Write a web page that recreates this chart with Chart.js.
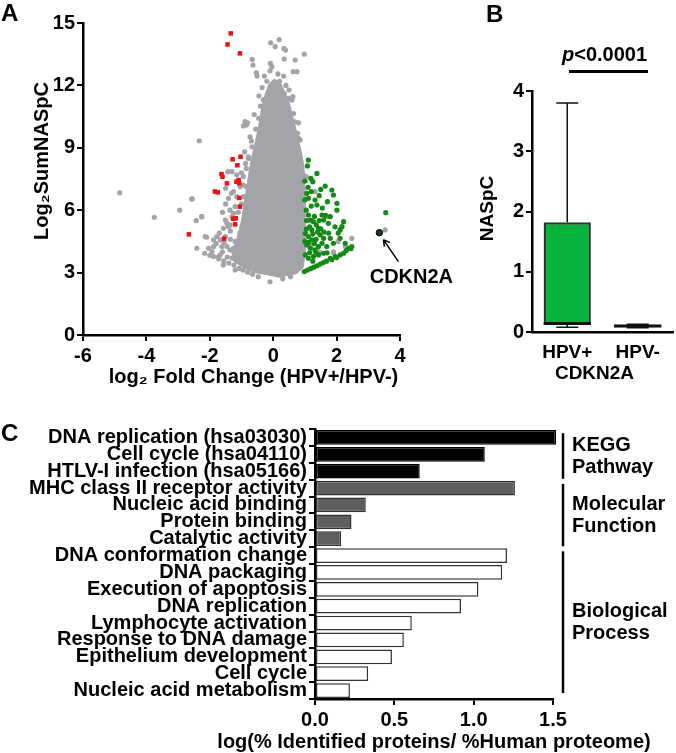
<!DOCTYPE html>
<html>
<head>
<meta charset="utf-8">
<script src="https://cdn.jsdelivr.net/npm/chart.js@4/dist/chart.umd.min.js"></script>
<style>
body { margin: 0; background: #fff; }
#wrap { position: relative; width: 676px; height: 753px; overflow: hidden; font-family: 'Liberation Sans', Arial, sans-serif; font-weight: bold; }
canvas { position: absolute; }
.lbl { position: absolute; font-size: 24px; line-height: 24px; color: #000; }
</style>
</head>
<body>
<div id="wrap">
  <canvas id="volcano" width="470" height="390" style="left:0;top:0"></canvas>
  <canvas id="box" width="276" height="390" style="left:400px;top:0"></canvas>
  <canvas id="go" width="676" height="363" style="left:0;top:390px"></canvas>
  <div class="lbl" style="left:1px;top:1px">A</div>
  <div class="lbl" style="left:486px;top:2px">B</div>
  <div class="lbl" style="left:1px;top:421px">C</div>
  <div style="position:absolute;left:562px;top:44px;font-size:20px;line-height:20px"><i>p</i>&lt;0.0001</div>
  <div style="position:absolute;left:569px;top:70px;width:79px;height:3px;background:#000"></div>
</div>
<script>
// ---- panel A: volcano plot ----
// dense centre of the grey cloud (outline, clockwise from top)
var grayCore = [[0.0,12.3],[0.2,12.2],[0.3,11.9],[0.5,11.2],[0.6,10.6],[0.7,10.0],[0.8,9.35],[0.9,8.7],[0.97,8.1],[1.0,7.1],[1.0,5.7],[1.0,3.9],[0.95,3.25],[0.74,2.95],[0.42,2.85],[0.2,2.78],[-0.2,2.9],[-0.6,3.0],[-0.95,3.25],[-1.25,3.55],[-1.3,3.95],[-1.15,4.6],[-1.0,5.5],[-0.9,6.5],[-0.8,7.45],[-0.72,8.25],[-0.6,9.05],[-0.48,9.85],[-0.38,10.8],[-0.25,11.6],[-0.12,12.1]];
var grayPts = [[-4.84,6.84],[-3.75,5.66],[-2.33,9.34],[-2.95,6.0],[-2.57,6.54],[-2.26,5.69],[-2.43,5.5],[-2.1,4.7],[-2.15,4.73],[-2.41,4.17],[-2.04,4.17],[-1.93,4.01],[-1.88,4.25],[-1.88,4.57],[-1.78,4.73],[-1.67,4.57],[-1.67,3.85],[-1.46,4.25],[-1.36,4.09],[-1.25,4.17],
  [-0.08,14.05],[0.19,14.2],[0.06,13.86],[0.34,13.78],[0.39,13.7],[0.98,13.5],[0.35,13.27],[0.69,13.22],[-0.66,13.25],[-0.64,12.98],[-0.09,13.06],[-0.04,12.9],[-0.53,12.6],[-0.51,12.45],[-0.28,12.45],[0.33,12.45],[0.63,12.66],[0.75,12.66],[-0.1,12.7],[0.15,12.55],
  [-0.89,10.26],[-0.84,10.1],[-0.94,10.05],[-0.81,10.2],[0.8,10.2],[0.77,9.7],[0.71,9.47],[0.85,9.38],[0.59,11.3],[0.62,11.46],[0.5,11.78],[-0.31,11.3],[-0.25,10.82],[-0.46,10.42],[-0.73,9.53],[0.48,11.38],[0.64,10.65],[0.69,10.25],[0.8,9.45],[0.77,9.05],[-0.4,11.0],[0.4,12.0],[-0.2,12.2],[0.2,12.2],
  [-1.43,7.85],[-1.3,7.85],[-0.87,8.25],[-0.78,8.57],[-0.69,9.33],[-0.94,7.21],[-0.84,7.13],[-1.32,6.81],[-1.41,6.57],[-2.56,6.54],[-0.94,6.65],[-0.83,6.49],[-1.36,6.0],[-1.25,5.85],[-2.25,5.69],[-1.51,5.53],[-1.46,5.37],[-1.36,5.29],[-1.57,5.13],[-0.94,5.29],[-0.99,5.13],[-0.67,9.05],[-0.78,8.49],[-0.85,8.01],[-0.94,7.61],[-1.04,7.13],[-1.15,6.65],[-1.2,6.17],[-1.3,5.69],[-1.41,5.21],[-1.51,4.73],[-1.62,4.25],[-1.72,3.77],[-1.1,5.9],[-1.0,6.3],[-1.05,4.9],[-1.2,4.5],[-1.35,4.6],[-1.0,7.8],[-0.9,8.8],
  [-1.8,4.4],[-1.6,4.0],[-1.45,3.75],[-1.3,3.7],[-1.15,3.55],[-1.7,4.9],[-1.55,4.45],[-1.1,3.85],[-1.35,5.0],[-1.6,5.9],[-1.5,6.3],[-1.25,6.9],[-1.15,7.7],[-1.5,7.05],
  [-2.16,3.93],[-2.0,3.83],[-1.88,3.77],[-1.72,3.67],[-1.56,3.57],[-1.4,3.46],[-1.24,3.36],[-1.08,3.2],[-0.95,3.12],[-0.8,3.02],[-0.65,2.92],[-0.47,2.8],[-1.57,3.37],[-1.2,3.13],[-0.1,2.56],[0.3,2.7],[0.55,2.8],
  [0.7,8.9],[0.85,8.3],[0.95,7.7],[0.6,9.9],[0.45,10.9],[0.35,11.6],[-0.35,11.9],[-0.45,11.5],[-0.6,10.6],[-0.55,9.9],
  [1.32,6.89],[1.7,5.7],[2.48,4.65],[1.9,3.95],[2.28,4.25],[1.9,4.0],[3.53,5.05],[1.05,7.6],[1.2,4.3],[1.45,4.0],[2.05,4.5]];
var redPts = [[-1.34,14.5],[-1.44,13.97],[-1.05,13.54],[-1.28,8.45],[-1.03,8.57],[-1.13,8.16],[-1.63,7.74],[-1.6,7.61],[-1.09,7.45],[-1.16,7.37],[-1.07,7.29],[-1.46,7.29],[-1.84,6.9],[-1.75,6.86],[-1.07,6.59],[-1.05,6.17],[-1.26,5.59],[-1.18,5.61],[-1.2,5.32],[-1.55,4.63],[-2.66,4.84]];
var greenPts = [[1.11,8.41],[1.08,8.13],[1.38,7.77],[1.19,7.53],[1.25,7.37],[1.64,7.16],[1.06,6.81],[1.11,6.57],[1.85,6.97],[1.9,6.73],[1.32,6.49],[1.38,6.25],[1.71,6.41],[2.01,6.33],[2.01,6.0],[1.04,6.0],[1.11,5.77],[1.17,5.53],[1.54,5.77],[1.59,5.53],[1.8,5.69],[1.74,5.37],[1.27,5.45],[1.36,5.29],[1.43,5.13],[1.22,5.05],[2.22,5.45],[2.17,5.21],[2.11,5.05],[1.01,4.89],[1.11,4.73],[1.22,4.57],[1.06,4.33],[1.17,4.17],[1.32,4.09],[1.43,4.25],[1.54,4.41],[1.59,4.65],[1.48,4.81],[1.8,4.65],[1.9,4.41],[1.69,4.25],[2.11,4.65],[2.27,4.41],[2.38,4.17],[2.48,4.25],[1.01,3.85],[1.11,3.69],[1.27,3.77],[1.43,3.85],[1.59,3.93],[1.8,3.69],[1.96,3.77],[2.11,3.85],[2.22,3.93],
  [0.98,3.05],[1.08,3.12],[1.18,3.19],[1.28,3.26],[1.38,3.33],[1.48,3.41],[1.58,3.48],[1.68,3.55],[1.85,3.62],[2.0,3.72],[2.3,4.05],[2.45,4.15],
  [1.05,5.5],[1.15,5.2],[1.25,4.85],[1.35,4.6],[1.05,5.1],[1.3,5.7],[1.45,5.5],[1.2,6.2],[1.0,6.5],[1.1,7.1],[1.3,4.4],[1.15,3.95],[1.4,4.95],[1.5,5.1],[1.6,4.95],[1.55,6.1],[1.45,6.7],[1.0,4.5],[1.12,4.45],[1.25,3.55],[1.35,3.95],[1.65,5.75],[1.75,4.9],[1.2,6.9],[1.5,7.0],[1.0,7.4],[1.7,3.95],[1.95,5.2],[2.05,4.9],
  [3.55,5.88]];
var cdkn2aPt = [[3.35,4.92]];

// ---- panel B: CDKN2A box plot ----
var boxCats = ['HPV+', 'HPV-'];
var boxLow = [0.12, 0.08];
var boxHigh = [1.82, 0.12];
var boxMedian = [0.14, 0.10];
var whiskLow = [0.08, 0.07];
var whiskHigh = [3.8, 0.13];

// ---- panel C: enrichment ----
var goLabels = ['DNA replication (hsa03030)', 'Cell cycle (hsa04110)', 'HTLV-I infection (hsa05166)', 'MHC class II receptor activity', 'Nucleic acid binding', 'Protein binding', 'Catalytic activity', 'DNA conformation change', 'DNA packaging', 'Execution of apoptosis', 'DNA replication', 'Lymphocyte activation', 'Response to DNA damage', 'Epithelium development', 'Cell cycle', 'Nucleic acid metabolism'];
var goValues = [1.52, 1.07, 0.66, 1.26, 0.32, 0.23, 0.165, 1.21, 1.18, 1.03, 0.92, 0.61, 0.56, 0.485, 0.335, 0.22];
var goGroupOf = [0, 0, 0, 1, 1, 1, 1, 2, 2, 2, 2, 2, 2, 2, 2, 2];
var groupNames = [['KEGG', 'Pathway'], ['Molecular', 'Function'], ['Biological', 'Process']];
var groupFirst = [0, 3, 7];
var groupLast = [2, 6, 15];

var FONT = "'Liberation Sans', Arial, sans-serif";
Chart.defaults.font.family = FONT;
Chart.defaults.font.weight = 'bold';
Chart.defaults.font.size = 20;
Chart.defaults.color = '#000';
Chart.defaults.animation = false;
Chart.defaults.plugins.legend.display = false;
Chart.defaults.plugins.tooltip.enabled = false;

function toXY(list) {
    return list.map(function (p) { return { x: p[0], y: p[1] }; });
}

function drawText(ctx, text, x, y, size, rotate) {
    ctx.save();
    ctx.translate(x, y);
    if (rotate) ctx.rotate(-Math.PI / 2);
    ctx.fillStyle = '#000';
    ctx.font = 'bold ' + size + 'px ' + FONT;
    ctx.textAlign = 'center';
    ctx.textBaseline = 'middle';
    ctx.fillText(text, 0, 0);
    ctx.restore();
}

var grey = '#a3a3aa';
var axisGrid = { display: true, drawOnChartArea: false, drawTicks: true, tickLength: 6, lineWidth: 2, color: '#000' };
var axisBorder = { display: true, width: 2.5, color: '#000' };

var volcanoDecor = {
    id: 'volcanoDecor',
    afterDraw: function (chart) {
        var ctx = chart.ctx;
        var area = chart.chartArea;
        drawText(ctx, 'Log\u2082SumNASpC', 42, (area.top + area.bottom) / 2 - 18, 20, true);
        drawText(ctx, 'log\u2082 Fold Change (HPV+/HPV-)', (area.left + area.right) / 2 + 12, 377, 20, false);
        var pt = chart.getDatasetMeta(4).data[0];
        var tipX = pt.x + 4, tipY = pt.y + 7;
        var tailX = pt.x + 19, tailY = pt.y + 29;
        ctx.save();
        ctx.strokeStyle = '#000';
        ctx.lineWidth = 1.5;
        ctx.beginPath();
        ctx.moveTo(tailX, tailY);
        ctx.lineTo(tipX, tipY);
        ctx.moveTo(tipX, tipY);
        ctx.lineTo(tipX + 1, tipY + 7);
        ctx.moveTo(tipX, tipY);
        ctx.lineTo(tipX + 6.5, tipY + 3);
        ctx.stroke();
        ctx.restore();
        drawText(ctx, 'CDKN2A', pt.x + 32, pt.y + 45, 20, false);
    }
};

new Chart(document.getElementById('volcano'), {
    type: 'scatter',
    data: {
        datasets: [
            { data: toXY(grayCore), showLine: true, fill: 'shape', backgroundColor: grey, borderColor: grey, borderWidth: 1, pointRadius: 0, order: 5 },
            { data: toXY(grayPts), backgroundColor: grey, borderWidth: 0, pointRadius: 2.6, order: 4 },
            { data: toXY(redPts), pointStyle: 'rect', backgroundColor: '#ee1111', borderWidth: 0, pointRadius: 3.2, order: 3 },
            { data: toXY(greenPts), backgroundColor: '#138a13', borderWidth: 0, pointRadius: 2.6, order: 2 },
            { data: toXY(cdkn2aPt), backgroundColor: '#1d3b1d', borderColor: '#000', borderWidth: 1, pointRadius: 3.2, order: 1 }
        ]
    },
    options: {
        responsive: false,
        layout: { padding: { top: 23, right: 70, left: 0, bottom: 0 } },
        scales: {
            x: {
                type: 'linear', min: -6, max: 4,
                ticks: { stepSize: 2, padding: 3 },
                grid: axisGrid, border: axisBorder,
                afterFit: function (s) { s.height = 55; }
            },
            y: {
                type: 'linear', min: 0, max: 15,
                ticks: { stepSize: 3, padding: 2 },
                grid: axisGrid, border: axisBorder,
                afterFit: function (s) { s.width = 83; }
            }
        }
    },
    plugins: [volcanoDecor]
});

var boxDecor = {
    id: 'boxDecor',
    afterDatasetsDraw: function (chart) {
        var ctx = chart.ctx, xs = chart.scales.x, ys = chart.scales.y;
        ctx.save();
        ctx.strokeStyle = '#111';
        for (var i = 0; i < boxCats.length; i++) {
            var x = xs.getPixelForValue(i);
            ctx.lineWidth = 1.5;
            ctx.beginPath();
            ctx.moveTo(x, ys.getPixelForValue(boxHigh[i]));
            ctx.lineTo(x, ys.getPixelForValue(whiskHigh[i]));
            ctx.moveTo(x - 11, ys.getPixelForValue(whiskHigh[i]));
            ctx.lineTo(x + 11, ys.getPixelForValue(whiskHigh[i]));
            ctx.moveTo(x, ys.getPixelForValue(boxLow[i]));
            ctx.lineTo(x, ys.getPixelForValue(whiskLow[i]));
            ctx.moveTo(x - 11, ys.getPixelForValue(whiskLow[i]));
            ctx.lineTo(x + 11, ys.getPixelForValue(whiskLow[i]));
            ctx.stroke();
            var bar = chart.getDatasetMeta(0).data[i];
            ctx.lineWidth = 3;
            ctx.beginPath();
            ctx.moveTo(bar.x - bar.width / 2, ys.getPixelForValue(boxMedian[i]));
            ctx.lineTo(bar.x + bar.width / 2, ys.getPixelForValue(boxMedian[i]));
            ctx.stroke();
        }
        ctx.restore();
    },
    afterDraw: function (chart) {
        var area = chart.chartArea, xs = chart.scales.x;
        drawText(chart.ctx, 'NASpC', 88, (area.top + area.bottom) / 2 - 3, 19, true);
        drawText(chart.ctx, 'CDKN2A', (xs.getPixelForValue(0) + xs.getPixelForValue(1)) / 2 - 8, 374, 19, false);
    }
};

new Chart(document.getElementById('box'), {
    type: 'bar',
    data: {
        labels: boxCats,
        datasets: [{
            data: boxLow.map(function (v, i) { return [v, boxHigh[i]]; }),
            backgroundColor: ['#06b33d', '#1a1a1a'],
            borderColor: ['#1f3f28', '#111'],
            borderWidth: 2.5,
            borderSkipped: false,
            barPercentage: 0.67,
            categoryPercentage: 1.0
        }]
    },
    options: {
        responsive: false,
        layout: { padding: { top: 91, right: 3, left: 0, bottom: 0 } },
        scales: {
            x: {
                ticks: { padding: 9, font: { size: 19 } },
                grid: { display: true, drawOnChartArea: false, drawTicks: false },
                border: axisBorder,
                afterFit: function (s) { s.height = 58; }
            },
            y: {
                min: 0, max: 4,
                ticks: { stepSize: 1, padding: 2, font: { size: 20 } },
                grid: axisGrid, border: axisBorder,
                afterFit: function (s) { s.width = 132; }
            }
        }
    },
    plugins: [boxDecor]
});

var groupFill = ['#000000', '#5e5e5e', '#ffffff'];
var groupEdge = ['#000000', '#333333', '#333333'];

var goDecor = {
    id: 'goDecor',
    afterDraw: function (chart) {
        var ctx = chart.ctx, ys = chart.scales.y, area = chart.chartArea;
        var slot = ys.getPixelForValue(1) - ys.getPixelForValue(0);
        var bx = area.right + 10;
        ctx.save();
        ctx.strokeStyle = '#000';
        ctx.lineWidth = 2.5;
        for (var g = 0; g < groupNames.length; g++) {
            var top = ys.getPixelForValue(groupFirst[g]) - 0.25 * slot;
            var bot = ys.getPixelForValue(groupLast[g]) + 0.45 * slot;
            if (g === groupNames.length - 1) bot = ys.getPixelForValue(groupLast[g]) + 0.15 * slot;
            ctx.beginPath();
            ctx.moveTo(bx, top);
            ctx.lineTo(bx, bot);
            ctx.stroke();
            var mid = (top + bot) / 2;
            ctx.textAlign = 'left';
            ctx.textBaseline = 'middle';
            ctx.fillStyle = '#000';
            ctx.font = 'bold 20px ' + FONT;
            ctx.fillText(groupNames[g][0], bx + 9, mid - 11);
            ctx.fillText(groupNames[g][1], bx + 9, mid + 11);
        }
        ctx.restore();
        drawText(ctx, 'log(% Identified proteins/ %Human proteome)', (area.left + area.right) / 2, chart.height - 11, 20, false);
    }
};

new Chart(document.getElementById('go'), {
    type: 'bar',
    data: {
        labels: goLabels,
        datasets: [{
            data: goValues,
            backgroundColor: goGroupOf.map(function (g) { return groupFill[g]; }),
            borderColor: goGroupOf.map(function (g) { return groupEdge[g]; }),
            borderWidth: 1.5,
            borderSkipped: false,
            barPercentage: 0.88,
            categoryPercentage: 1.0,
            clip: false
        }]
    },
    options: {
        responsive: false,
        indexAxis: 'y',
        layout: { padding: { top: 39, right: 123, left: 0, bottom: 0 } },
        scales: {
            x: {
                min: 0, max: 1.5,
                ticks: { stepSize: 0.5, padding: 3, callback: function (v) { return v.toFixed(1); } },
                grid: axisGrid, border: axisBorder,
                afterFit: function (s) { s.height = 54; }
            },
            y: {
                ticks: { padding: 2, autoSkip: false, font: { size: 20 } },
                grid: axisGrid, border: axisBorder,
                afterFit: function (s) { s.width = 315; }
            }
        }
    },
    plugins: [goDecor]
});
</script>
</body>
</html>
